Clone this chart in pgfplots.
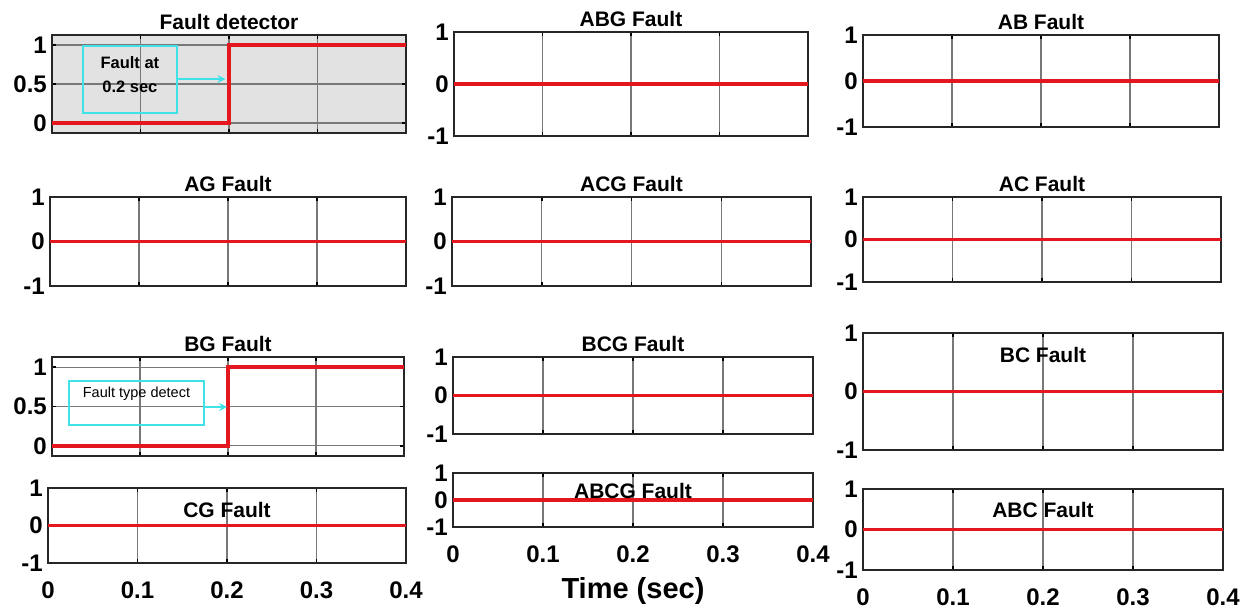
\documentclass[border=0pt]{standalone}
\usepackage{fontspec}
\setmainfont{Liberation Sans}
\usepackage{pgfplots}
\pgfplotsset{compat=1.18}
\usetikzlibrary{arrows.meta}

\definecolor{sigred}{RGB}{228,22,30}
\definecolor{annocyan}{RGB}{64,226,232}
\definecolor{bggray}{RGB}{226,226,226}
\definecolor{gridgray}{RGB}{120,120,120}

\newcommand{\ticksz}{\fontsize{24}{24}\selectfont\bfseries}
\newcommand{\titlesz}{\fontsize{21}{21}\selectfont\bfseries}

\pgfplotsset{
  every axis title/.style={at={(0.5,1)}, anchor=base, inner sep=0pt,
    yshift=6pt, font=\titlesz},
  panel/.style={
    scale only axis, anchor=north west,
    xmin=0, xmax=0.4, xtick={0,0.1,0.2,0.3,0.4}, xticklabels={},
    ymin=-1, ymax=1, ytick={-1,0,1}, yticklabels={-1,0,1},
    grid=major, major grid style={line width=1.3pt, color=gridgray},
    axis line style={line width=2.2pt, black!85},
    tick align=inside, major tick length=4pt,
    tick style={line width=1.5pt, black},
    ticklabel style={font=\ticksz},
    yticklabel style={anchor=east, inner sep=0pt, xshift=-5pt},
    xticklabel style={anchor=north, inner sep=0pt, yshift=-19pt},
  },
  xnums/.style={xticklabels={0,0.1,0.2,0.3,0.4}},
  % titles that sit inside the frame: baseline #1 below the top edge
  inside title/.style={title style={yshift=-#1-6pt}},
  step panel/.style={ymin=-0.13, ymax=1.13, ytick={0,0.5,1}, yticklabels={0,0.5,1}},
  sig/.style={sigred, line width=3.5pt},
}

\begin{document}
\begin{tikzpicture}
\path[use as bounding box] (0,0) rectangle (1251pt,-611pt);

% ---------------- column 1 ----------------
\begin{axis}[panel, step panel, at={(52pt,-35pt)}, width=354pt, height=98pt,
  title={Fault detector}, axis background/.style={fill=bggray}]
  \addplot[sig] coordinates {(0,0) (0.2,0) (0.2,1) (0.4,1)};
  \draw[annocyan, line width=2.2pt] (axis cs:0.035,0.128) rectangle (axis cs:0.141,0.987);
  \node[font=\fontsize{16.5}{16.5}\selectfont\bfseries, inner sep=0pt] at (axis cs:0.088,0.78) {Fault at};
  \node[font=\fontsize{16.5}{16.5}\selectfont\bfseries, inner sep=0pt] at (axis cs:0.088,0.47) {0.2 sec};
  \draw[annocyan, line width=2.2pt, -{Stealth[length=8pt,width=8pt]}] (axis cs:0.141,0.564) -- (axis cs:0.196,0.564);
\end{axis}

\begin{axis}[panel, at={(50pt,-197pt)}, width=356pt, height=89pt, title={AG Fault}]
  \addplot[sig] coordinates {(0,0) (0.4,0)};
\end{axis}

\begin{axis}[panel, step panel, at={(52pt,-357pt)}, width=352pt, height=99pt, title={BG Fault}]
  \addplot[sig] coordinates {(0,0) (0.2,0) (0.2,1) (0.4,1)};
  \draw[annocyan, line width=2.2pt] (axis cs:0.0193,0.266) rectangle (axis cs:0.1727,0.823);
  \node[font=\fontsize{14.5}{14.5}\selectfont, inner sep=0pt] at (axis cs:0.096,0.66) {Fault type detect};
  \draw[annocyan, line width=2.2pt, -{Stealth[length=8pt,width=8pt]}] (axis cs:0.1727,0.494) -- (axis cs:0.199,0.494);
\end{axis}

\begin{axis}[panel, xnums, at={(48pt,-488pt)}, width=358pt, height=75pt,
  title={CG Fault}, inside title=29pt]
  \addplot[sig] coordinates {(0,0) (0.4,0)};
\end{axis}

% ---------------- column 2 ----------------
\begin{axis}[panel, at={(454pt,-32pt)}, width=354pt, height=104pt, title={ABG Fault}]
  \addplot[sig] coordinates {(0,0) (0.4,0)};
\end{axis}

\begin{axis}[panel, at={(452pt,-197pt)}, width=359pt, height=89pt, title={ACG Fault}]
  \addplot[sig] coordinates {(0,0) (0.4,0)};
\end{axis}

\begin{axis}[panel, at={(453pt,-357pt)}, width=360pt, height=77pt, title={BCG Fault}]
  \addplot[sig] coordinates {(0,0) (0.4,0)};
\end{axis}

\begin{axis}[panel, xnums, at={(453pt,-473pt)}, width=360pt, height=54pt,
  title={ABCG Fault}, inside title=25pt,
  xlabel={Time (sec)},
  xlabel style={at={(0.5,0)}, anchor=base, inner sep=0pt, yshift=-71pt,
    font=\fontsize{29}{29}\selectfont\bfseries}]
  \addplot[sig] coordinates {(0,0) (0.4,0)};
\end{axis}

% ---------------- column 3 ----------------
\begin{axis}[panel, at={(863pt,-35pt)}, width=356pt, height=92pt, title={AB Fault}]
  \addplot[sig] coordinates {(0,0) (0.4,0)};
\end{axis}

\begin{axis}[panel, at={(863pt,-197pt)}, width=358pt, height=85pt, title={AC Fault}]
  \addplot[sig] coordinates {(0,0) (0.4,0)};
\end{axis}

\begin{axis}[panel, at={(863pt,-333pt)}, width=360pt, height=117pt,
  title={BC Fault}, inside title=29pt]
  \addplot[sig] coordinates {(0,0) (0.4,0)};
\end{axis}

\begin{axis}[panel, xnums, at={(863pt,-489pt)}, width=360pt, height=81pt,
  title={ABC Fault}, inside title=28pt]
  \addplot[sig] coordinates {(0,0) (0.4,0)};
\end{axis}

\end{tikzpicture}
\end{document}
